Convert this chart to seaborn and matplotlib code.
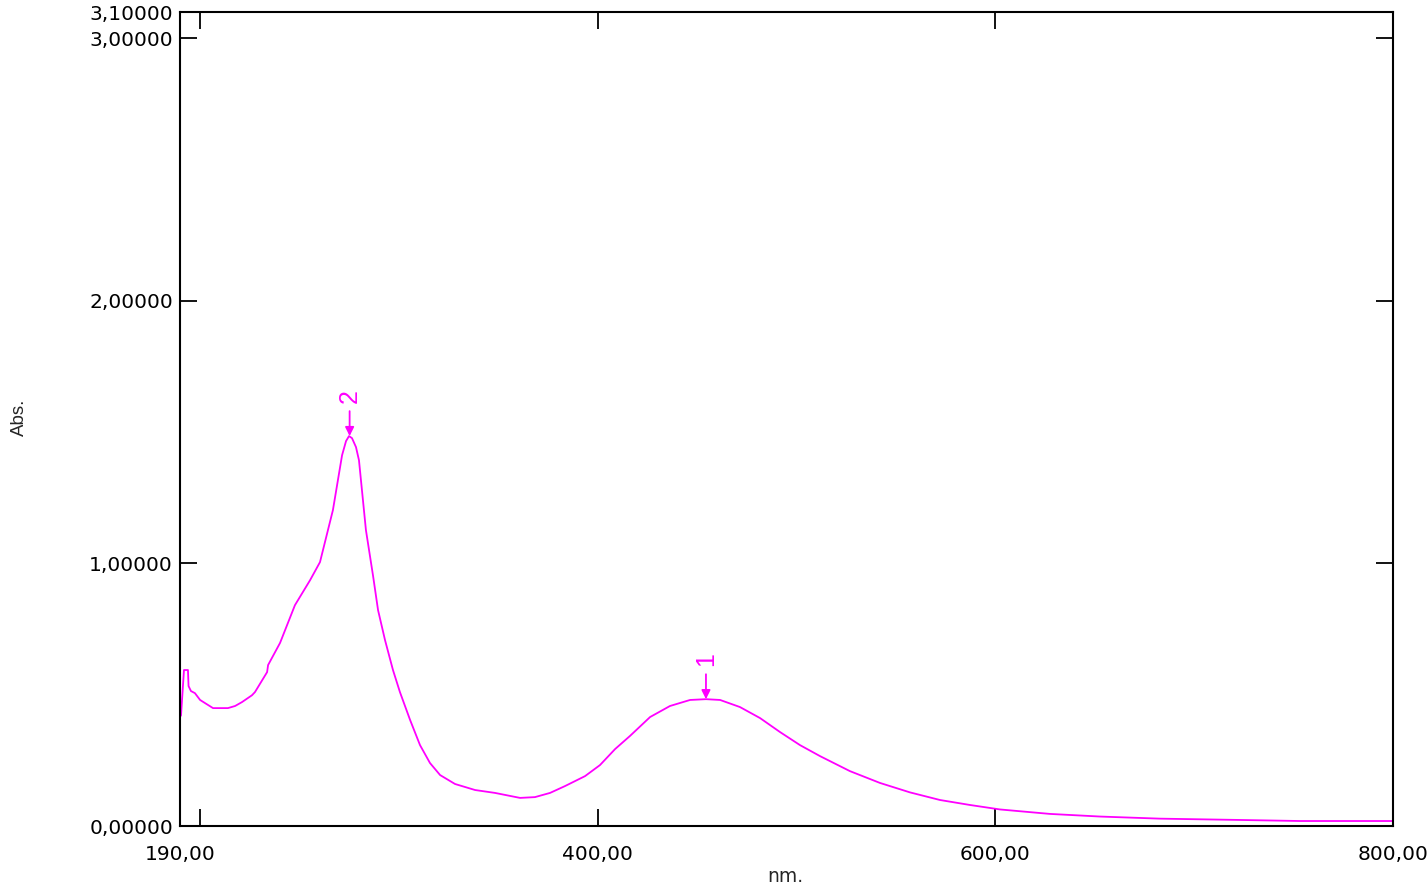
import matplotlib
matplotlib.use("Agg")
import matplotlib.pyplot as plt
import seaborn as sns
import pandas as pd

wavelength = [190.5, 192.0, 194.0, 194.3, 195.5, 197.5, 200.1, 202.6, 206.6, 214.1, 217.7, 221.2,
              226.2, 227.7, 233.8, 234.3, 240.3, 247.8, 255.4, 260.4, 266.9, 271.5, 273.5, 275.0,
              276.5, 278.5, 280.0, 283.5, 287.1, 289.6, 293.1, 297.1, 300.6, 305.7, 310.7, 315.7,
              320.8, 328.3, 338.4, 348.4, 361.0, 368.5, 376.1, 383.6, 393.7, 401.2, 408.8, 416.3,
              426.4, 436.4, 446.5, 454.5, 461.6, 471.6, 481.7, 491.7, 501.8, 511.9, 526.9, 542.0,
              557.1, 572.2, 587.3, 602.4, 627.5, 652.7, 682.8, 723.1, 753.2, 800.0]
absorbance = [0.420, 0.594, 0.594, 0.533, 0.514, 0.506, 0.480, 0.468, 0.449, 0.449, 0.457, 0.472,
              0.498, 0.510, 0.586, 0.613, 0.697, 0.841, 0.936, 1.005, 1.203, 1.412, 1.466, 1.485,
              1.477, 1.443, 1.393, 1.127, 0.952, 0.822, 0.708, 0.594, 0.510, 0.404, 0.308, 0.240,
              0.194, 0.160, 0.137, 0.126, 0.107, 0.110, 0.126, 0.152, 0.190, 0.232, 0.293, 0.343,
              0.415, 0.457, 0.480, 0.483, 0.480, 0.453, 0.411, 0.358, 0.308, 0.266, 0.209, 0.164,
              0.128, 0.099, 0.080, 0.063, 0.046, 0.036, 0.028, 0.023, 0.019, 0.019]

peak_labels = ["1", "2"]
peak_nm = [454.5, 275.3]
peak_abs = [0.483, 1.485]

xlabel_pos = [190, 400, 600, 800]
xticklabels = ["190,00", "400,00", "600,00", "800,00"]
xminor = [200]
yticks = [0, 1, 2, 3, 3.1]
yticklabels = ["0,00000", "1,00000", "2,00000", "3,00000", "3,10000"]

sns.set_style("white")
plt.rcParams['font.family'] = ['DejaVu Sans']
label_font = ['Liberation Sans', 'DejaVu Sans']

df = pd.DataFrame({"nm": wavelength, "Abs": absorbance})

fig = plt.figure(figsize=(14.28, 8.89), dpi=100)
ax = fig.add_axes([180 / 1428, 1 - 826 / 889, 1213 / 1428, 814 / 889])
sns.lineplot(data=df, x="nm", y="Abs", color="#FF00FF", linewidth=1.3, ax=ax)

ax.set_xlim(190, 800)
ax.set_ylim(0, 3.1)
ax.set_xticks(xlabel_pos)
ax.set_xticklabels(xticklabels, fontsize=14.5)
ax.set_xticks(xminor, minor=True)
ax.set_yticks(yticks)
ax.set_yticklabels(yticklabels, fontsize=14.5)
ax.tick_params(axis="x", which="both", direction="in", top=True, bottom=True, length=12,
               width=1.3, color="black", labelcolor="black", pad=13.5)
ax.tick_params(axis="y", which="both", direction="in", left=True, right=True, length=12,
               width=1.3, color="black", labelcolor="black", pad=5)
for s in ax.spines.values():
    s.set_color("black")
    s.set_linewidth(1.5)

ax.set_xlabel("")
ax.set_ylabel("")
fig.text(785 / 1428, 1 - 876 / 889, "nm.", fontsize=13.5, ha="center", va="center")
fig.text(19 / 1428, 1 - 417 / 889, "Abs.", fontsize=13.5, rotation=90, family=label_font,
         ha="center", va="center")

for lab, x, y in zip(peak_labels, peak_nm, peak_abs):
    ax.annotate("", xy=(x, y), xytext=(x, y + 0.095),
                arrowprops=dict(arrowstyle="-|>", color="#FF00FF", lw=1.3, mutation_scale=13,
                                shrinkA=0, shrinkB=0))
    ax.text(x, y + 0.152, lab, rotation=90, color="#FF00FF", fontsize=18, family=label_font,
            ha="center", va="center")

fig.savefig("out.png", dpi=100)
